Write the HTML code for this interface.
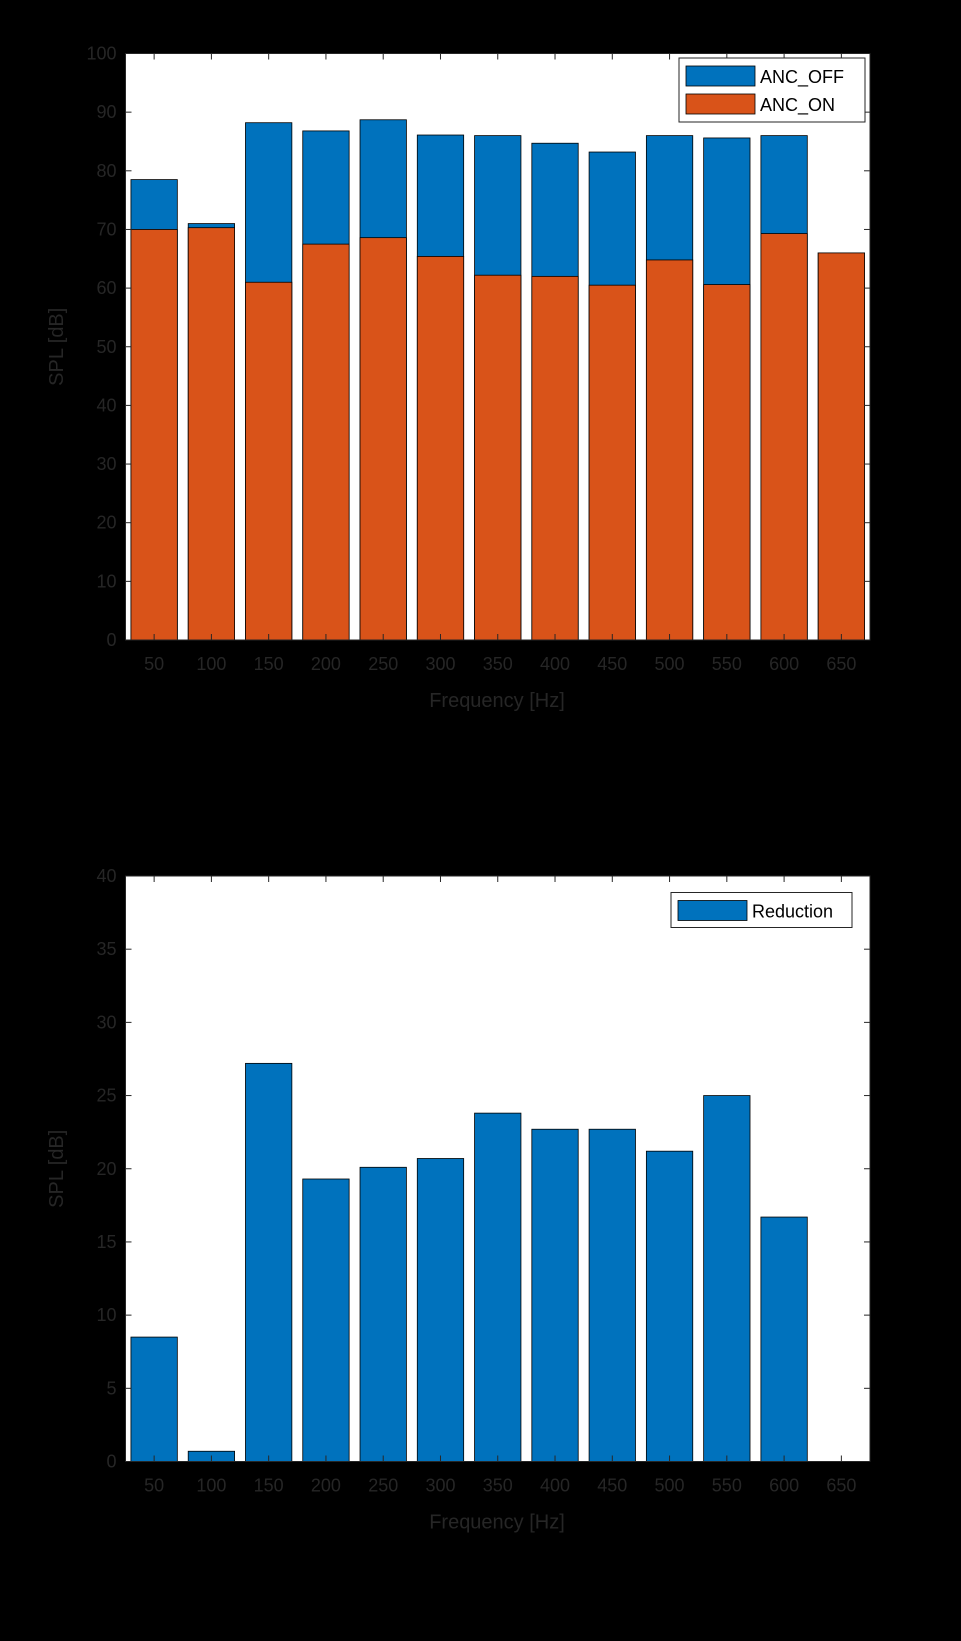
<!DOCTYPE html>
<html><head><meta charset="utf-8"><style>
html,body{margin:0;padding:0;background:#000;}
svg{display:block;font-family:"Liberation Sans",Arial,sans-serif;}
</style></head><body>
<svg id="fig" width="961" height="1641" viewBox="0 0 961 1641">
<rect x="0" y="0" width="961" height="1641" fill="#000"/>
</svg>
<script>
const categories=["50","100","150","200","250","300","350","400","450","500","550","600","650"];
const ancOff=[78.5,71,88.2,86.8,88.7,86.1,86,84.7,83.2,86,85.6,86,66];
const ancOn=[70,70.3,61,67.5,68.6,65.4,62.2,62,60.5,64.8,60.6,69.3,66];
const reduction=[8.5,0.7,27.2,19.3,20.1,20.7,23.8,22.7,22.7,21.2,25,16.7,0];
const topTicks=[0,10,20,30,40,50,60,70,80,90,100];
const botTicks=[0,5,10,15,20,25,30,35,40];

const NS="http://www.w3.org/2000/svg";
const svg=document.getElementById('fig');
function mk(tag,attrs,parent,text){const e=document.createElementNS(NS,tag);for(const k in attrs)e.setAttribute(k,attrs[k]);if(text!==undefined)e.textContent=text;(parent||svg).appendChild(e);return e;}

function drawAxes(cfg){
  const g=mk('g',{});
  
  
  const L=125.5,R=870,T=cfg.top,B=cfg.bottom;
  const n=categories.length, cw=(R-L)/n, bw=cw*0.81;
  const x=i=>L+cw*(i+0.5);
  const y=v=>B-(v-cfg.ymin)/(cfg.ymax-cfg.ymin)*(B-T);
  const bg=mk('rect',{x:L,y:T,width:R-L,height:B-T,fill:'#fff'},g);
  
  
  cfg.series.forEach(s=>{
    s.values.forEach((v,i)=>{
      if(v<=0) return;
      const r=mk('rect',{x:x(i)-bw/2,y:y(v),width:bw,height:B-y(v),fill:s.color,stroke:'#000','stroke-width':0.8},g);
      
      
    });
  });
  mk('rect',{x:L,y:T,width:R-L,height:B-T,fill:'none',stroke:'#262626','stroke-width':1},g);
  cfg.ticks.forEach(t=>{
    const yy=y(t);
    mk('line',{x1:L,x2:L+6,y1:yy,y2:yy,stroke:'#262626'},g);
    mk('line',{x1:R,x2:R-6,y1:yy,y2:yy,stroke:'#262626'},g);
    const tl=mk('text',{x:L-9,y:yy+6,'text-anchor':'end','font-size':18,fill:'#262626'},g,String(t));
    
    
  });
  categories.forEach((c,i)=>{
    mk('line',{x1:x(i),x2:x(i),y1:B,y2:B-6,stroke:'#262626'},g);
    mk('line',{x1:x(i),x2:x(i),y1:T,y2:T+6,stroke:'#262626'},g);
    const tl=mk('text',{x:x(i),y:B+30,'text-anchor':'middle','font-size':18,fill:'#262626'},g,c);
    
    
  });
  const xl=mk('text',{x:497,y:B+67,'text-anchor':'middle','font-size':20,fill:'#262626'},g,'Frequency [Hz]');
  
  
  const cy=(T+B)/2;
  const yl=mk('text',{x:63,y:cy,'text-anchor':'middle','font-size':20,fill:'#262626',transform:'rotate(-90 63 '+cy+')'},g,'SPL [dB]');
  
  
  // legend
  const lg=mk('g',{},g);
  
  
  const lc=cfg.legend;
  mk('rect',{x:lc.x,y:lc.y,width:lc.w,height:lc.h,fill:'#fff',stroke:'#262626','stroke-width':1},lg);
  cfg.series.forEach((s,k)=>{
    const sy=lc.y+8+k*28;
    const sw=mk('rect',{x:lc.x+7,y:sy,width:69,height:20,fill:s.color,stroke:'#000','stroke-width':0.8},lg);
    
    
    const lt=mk('text',{x:lc.x+81,y:sy+17,'font-size':18,fill:'#000'},lg,s.label);
    
    
  });
}
drawAxes({name:'spl-chart',top:53.5,bottom:640,ymin:0,ymax:100,ticks:topTicks,
  series:[{key:'anc-off',label:'ANC_OFF',values:ancOff,color:'#0072bd'},{key:'anc-on',label:'ANC_ON',values:ancOn,color:'#d95319'}],
  legend:{x:679,y:58,w:186,h:64}});
drawAxes({name:'reduction-chart',top:876,bottom:1461.5,ymin:0,ymax:40,ticks:botTicks,
  series:[{key:'reduction',label:'Reduction',values:reduction,color:'#0072bd'}],
  legend:{x:671,y:892.5,w:181,h:35}});
</script>
</body></html>
